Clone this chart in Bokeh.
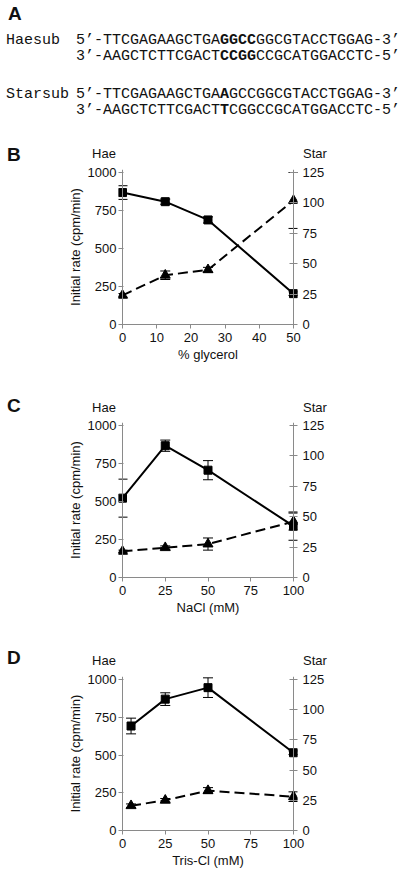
from bokeh.plotting import figure
from bokeh.models import (ColumnDataSource, Range1d, LinearAxis, FixedTicker,
                          Whisker, TeeHead, Span, Div)
from bokeh.layouts import column
from bokeh.embed import file_html
from bokeh.resources import INLINE

SANS = "Liberation Sans"
MONO = "Liberation Mono"

# ---------------- data ----------------
seq_names = ["Haesub", "", "Starsub", ""]
seq_left = ["5’-TTCGAGAAGCTGA", "3’-AAGCTCTTCGACT", "5’-TTCGAGAAGCTGA", "3’-AAGCTCTTCGACT"]
seq_bold = ["GGCC", "CCGG", "A", "T"]
seq_right = ["GGCGTACCTGGAG-3’", "CCGCATGGACCTC-5’", "GCCGGCGTACCTGGAG-3’", "CGGCCGCATGGACCTC-5’"]

glycerol = [0, 12.5, 25, 50]
glyc_hae = [868, 808, 688, 203]
glyc_hae_err = [45, 17, 20, 12]
glyc_star = [24, 40.5, 45, 102]
glyc_star_err = [1.5, 3.5, 2, 23]

nacl = [0, 25, 50, 100]
nacl_hae = [522, 867, 706, 338]
nacl_hae_err = [125, 37, 63, 93]
nacl_star = [21.5, 24.5, 27.5, 46]
nacl_star_err = [1, 1.5, 5, 7]

tris = [5, 25, 50, 100]
tris_hae = [692, 870, 946, 515]
tris_hae_err = [52, 42, 65, 12]
tris_star = [20.5, 25, 33, 28]
tris_star_err = [1.5, 1.5, 2.5, 4]

hae_ticks = [0, 250, 500, 750, 1000]
star_ticks = [0, 25, 50, 75, 100, 125]
glyc_ticks = [0, 10, 20, 30, 40, 50]
conc_ticks = [0, 25, 50, 75, 100]

W = 400
AX = "#8a8a8a"
TXT = "#111111"

# ---------------- panel A (text) ----------------
def span_html(text, left, top, size, font, bold=False, width=None, align="left"):
    w = f"width:{width}px;" if width else ""
    fw = "bold" if bold else "normal"
    return (f'<div style="position:absolute;left:{left}px;top:{top}px;{w}'
            f'text-align:{align};font-family:\'{font}\';font-size:{size}px;'
            f'line-height:{size}px;font-weight:{fw};white-space:pre;color:{TXT};'
            f'margin:0;padding:0;">{text}</div>')


def wrap(inner, h):
    return (f'<div style="position:relative;width:{W}px;height:{h}px;margin:0;padding:0;">'
            + inner + '</div>')


HA = 121
baselines = [44, 60, 98, 114]
inner = span_html("A", 8, 4, 19, SANS, bold=True)
for i in range(4):
    top = baselines[i] - 11.5
    if seq_names[i]:
        inner += span_html(seq_names[i], 6, top, 15, MONO)
    inner += span_html(seq_left[i] + "<b>" + seq_bold[i] + "</b>" + seq_right[i], 76, top, 15, MONO)
div_a = Div(text=wrap(inner, HA), width=W, height=HA, margin=(0, 0, 0, 0))


def header(letter, h, letter_base, lab_base):
    s = span_html(letter, 7, letter_base - 16.1, 19, SANS, bold=True)
    s += span_html("Hae", 104 - 30, lab_base - 11.0, 13, SANS, width=60, align="center")
    s += span_html("Star", 315 - 30, lab_base - 11.0, 13, SANS, width=60, align="center")
    return Div(text=wrap(s, h), width=W, height=h, margin=(0, 0, 0, 0))


def panel(xs, hae, hae_err, star, star_err, xmax, xticks, xlabel, top, fh, bottom):
    padx = xmax * 4.0 / 171.0
    ytop = fh / (fh - 3.0)
    p = figure(width=W, height=top + fh + bottom,
               x_range=Range1d(-padx, xmax + padx), y_range=Range1d(0, 1000 * ytop),
               toolbar_location=None, output_backend="svg", title_location=None,
               min_border_left=118, min_border_right=W - 118 - 179,
               min_border_top=top, min_border_bottom=bottom)
    p.extra_y_ranges = {"star": Range1d(0, 125 * ytop)}
    p.grid.visible = False
    p.outline_line_color = None
    p.add_layout(LinearAxis(y_range_name="star", ticker=FixedTicker(ticks=star_ticks)), "right")
    p.xaxis.ticker = FixedTicker(ticks=xticks)
    p.left[0].ticker = FixedTicker(ticks=hae_ticks)
    p.xaxis.axis_label = xlabel
    p.left[0].axis_label = "Initial rate (cpm/min)"
    for ax in p.xaxis + p.yaxis:
        ax.axis_line_color = AX
        ax.axis_line_width = 1
        ax.major_tick_line_color = AX
        ax.minor_tick_line_color = None
        ax.major_label_text_font = SANS
        ax.major_label_text_font_size = "13px"
        ax.major_label_text_color = TXT
        ax.axis_label_text_font = SANS
        ax.axis_label_text_font_size = "13px"
        ax.axis_label_text_font_style = "normal"
        ax.axis_label_text_color = TXT
        ax.axis_label_standoff = 2
    # bottom axis: line from 0 to xmax
    p.xaxis.bounds = (0, xmax)
    p.xaxis.major_tick_out = 4
    p.xaxis.major_tick_in = 0
    p.xaxis.major_label_standoff = 4
    # vertical axes: ticks reach from frame edge to (and across) the data edge
    for ax in p.yaxis:
        ax.axis_line_color = None
        ax.major_tick_out = 0
    p.left[0].major_tick_in = 5
    p.right[0].major_tick_in = 8
    p.left[0].major_label_standoff = 2
    p.right[0].major_label_standoff = 5
    p.add_layout(Span(location=0, dimension="height", line_color=AX, line_width=1))
    p.add_layout(Span(location=xmax, dimension="height", line_color=AX, line_width=1))

    hs = ColumnDataSource(dict(x=xs, y=hae, lo=[v - e for v, e in zip(hae, hae_err)],
                               hi=[v + e for v, e in zip(hae, hae_err)]))
    ss = ColumnDataSource(dict(x=xs, y=star, lo=[v - e for v, e in zip(star, star_err)],
                               hi=[v + e for v, e in zip(star, star_err)]))

    p.line("x", "y", source=hs, line_color="black", line_width=2)
    p.line("x", "y", source=ss, line_color="black", line_width=2, line_dash="10 5",
           y_range_name="star")
    for src, rn in ((hs, "default"), (ss, "star")):
        p.add_layout(Whisker(base="x", upper="hi", lower="lo", source=src, y_range_name=rn,
                             line_color="black", line_width=1,
                             upper_head=TeeHead(size=10, line_color="black", line_width=1),
                             lower_head=TeeHead(size=10, line_color="black", line_width=1)))
    p.scatter("x", "y", source=hs, marker="square", size=8, color="black")
    p.scatter("x", "y", source=ss, marker="triangle", size=10, color="black",
              y_range_name="star")
    return p


div_b = header("B", 42, 40, 37)
pb = panel(glycerol, glyc_hae, glyc_hae_err, glyc_star, glyc_star_err, 50, glyc_ticks,
           "% glycerol", 6, 155, 58)
div_c = header("C", 37, 30, 30)
pc = panel(nacl, nacl_hae, nacl_hae_err, nacl_star, nacl_star_err, 100, conc_ticks,
           "NaCl (mM)", 3, 155, 58)
div_d = header("D", 37, 29, 30)
pd_ = panel(tris, tris_hae, tris_hae_err, tris_star, tris_star_err, 100, conc_ticks,
            "Tris-Cl (mM)", 4, 154, 41)

layout = column(div_a, div_b, pb, div_c, pc, div_d, pd_, spacing=0)
open("out.html", "w").write(file_html(layout, INLINE))
